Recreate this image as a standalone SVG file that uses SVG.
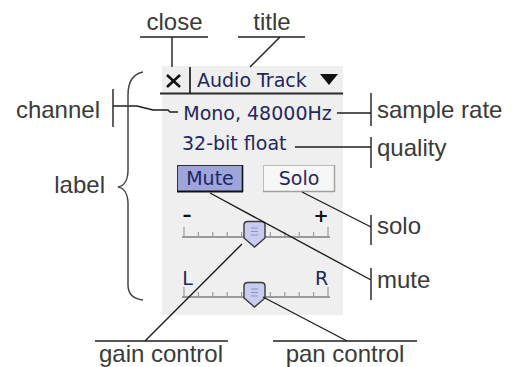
<svg xmlns="http://www.w3.org/2000/svg" width="513" height="367" viewBox="0 0 513 367">
<style>
.lbl{font-family:"Liberation Sans",Arial,sans-serif;font-size:24px;fill:#3a3a3a}
.ui{font-family:"DejaVu Sans",Tahoma,sans-serif;font-size:19px;fill:#1f2760}
.ln{stroke:#1e1e1e;stroke-width:1.4;fill:none}
.tick{stroke:#9a9a9a;stroke-width:1.2}
.thumb{fill:#c9cbef;stroke:#3a3a3a;stroke-width:1.4}
.grip{stroke:#8e91c8;stroke-width:1}
</style>
<rect width="513" height="367" fill="#ffffff"/>
<g id="panel">
  <rect x="162" y="66" width="181" height="249" fill="#efefef"/>
  <line x1="160" y1="93.5" x2="343" y2="93.5" stroke="#2a2a2a" stroke-width="2"/>
  <line x1="190" y1="67" x2="190" y2="94" stroke="#2a2a2a" stroke-width="1.8"/>
</g>
<g id="close-button">
  <line x1="167" y1="75" x2="180" y2="87" stroke="#111" stroke-width="2.6"/>
  <line x1="180" y1="75" x2="167" y2="87" stroke="#111" stroke-width="2.6"/>
</g>
<g id="title-text">
  <text class="ui" x="197" y="87">Audio Track</text>
  <polygon points="320,74 338,74 329,85" fill="#111"/>
</g>
<g id="sample-rate-text"><text class="ui" x="257.5" y="120" text-anchor="middle">Mono, 48000Hz</text></g>
<g id="quality-text"><text class="ui" x="182" y="150">32-bit float</text></g>
<g id="mute-button">
  <rect x="177.5" y="165.5" width="65" height="26" fill="#9ea5da" stroke="#333" stroke-width="1"/>
  <line x1="177" y1="191.5" x2="243" y2="191.5" stroke="#111" stroke-width="2"/>
  <line x1="242.5" y1="165" x2="242.5" y2="192" stroke="#111" stroke-width="1.6"/>
  <text class="ui" x="210" y="185" text-anchor="middle">Mute</text>
</g>
<g id="solo-button">
  <rect x="263.5" y="165.5" width="71" height="26" fill="#f7f7f7" stroke="#bdbdbd" stroke-width="1"/>
  <line x1="263" y1="191.5" x2="335" y2="191.5" stroke="#a0a0a0" stroke-width="1.4"/>
  <line x1="334.5" y1="165" x2="334.5" y2="192" stroke="#a0a0a0" stroke-width="1.4"/>
  <text class="ui" x="299" y="185" text-anchor="middle">Solo</text>
</g>
<g id="gain-slider">
  <text class="ui" x="187" y="221" text-anchor="middle" style="font-size:18px;font-weight:bold;fill:#111">–</text>
  <text class="ui" x="321" y="222" text-anchor="middle" style="font-size:18px;font-weight:bold;fill:#111">+</text>
  <line x1="182" y1="237" x2="330" y2="237" stroke="#9a9a9a" stroke-width="1.8"/>
  <g class="tick">
    <line x1="184" y1="227" x2="184" y2="236"/><line x1="198.4" y1="232" x2="198.4" y2="236"/><line x1="212.8" y1="232" x2="212.8" y2="236"/><line x1="227.2" y1="232" x2="227.2" y2="236"/><line x1="241.6" y1="232" x2="241.6" y2="236"/><line x1="270.4" y1="232" x2="270.4" y2="236"/><line x1="284.8" y1="232" x2="284.8" y2="236"/><line x1="299.2" y1="232" x2="299.2" y2="236"/><line x1="313.6" y1="232" x2="313.6" y2="236"/><line x1="328" y1="227" x2="328" y2="236"/>
  </g>
  <path class="thumb" d="M244,225 Q244,221.5 248,221.5 L261,221.5 Q265,221.5 265,225 L265,238 L254.5,247 L244,238 Z"/>
  <g class="grip"><line x1="251" y1="228" x2="258" y2="228"/><line x1="251" y1="231.5" x2="258" y2="231.5"/><line x1="251" y1="235" x2="258" y2="235"/></g>
</g>
<g id="pan-slider">
  <text class="ui" x="187.5" y="284.5" text-anchor="middle" style="font-size:19px">L</text>
  <text class="ui" x="321.5" y="284.5" text-anchor="middle" style="font-size:19px">R</text>
  <line x1="182" y1="297" x2="330" y2="297" stroke="#9a9a9a" stroke-width="1.8"/>
  <g class="tick">
    <line x1="184" y1="287" x2="184" y2="296"/><line x1="198.4" y1="292" x2="198.4" y2="296"/><line x1="212.8" y1="292" x2="212.8" y2="296"/><line x1="227.2" y1="292" x2="227.2" y2="296"/><line x1="241.6" y1="292" x2="241.6" y2="296"/><line x1="270.4" y1="292" x2="270.4" y2="296"/><line x1="284.8" y1="292" x2="284.8" y2="296"/><line x1="299.2" y1="292" x2="299.2" y2="296"/><line x1="313.6" y1="292" x2="313.6" y2="296"/><line x1="328" y1="287" x2="328" y2="296"/>
  </g>
  <path class="thumb" d="M244,286 Q244,282.5 248,282.5 L261,282.5 Q265,282.5 265,286 L265,298 L254.5,307 L244,298 Z"/>
  <g class="grip"><line x1="251" y1="289" x2="258" y2="289"/><line x1="251" y1="292.5" x2="258" y2="292.5"/><line x1="251" y1="296" x2="258" y2="296"/></g>
</g>
<g id="label-close"><text class="lbl" x="174.5" y="30" text-anchor="middle">close</text></g>
<g id="label-title"><text class="lbl" x="272" y="30" text-anchor="middle">title</text></g>
<g id="label-channel"><text class="lbl" x="100" y="118" text-anchor="end">channel</text></g>
<g id="label-label"><text class="lbl" x="105" y="193" text-anchor="end">label</text></g>
<g id="label-sample-rate"><text class="lbl" x="377" y="118">sample rate</text></g>
<g id="label-quality"><text class="lbl" x="377" y="156">quality</text></g>
<g id="label-solo"><text class="lbl" x="377" y="234">solo</text></g>
<g id="label-mute"><text class="lbl" x="377" y="288">mute</text></g>
<g id="label-gain-control"><text class="lbl" x="161" y="362" text-anchor="middle">gain control</text></g>
<g id="label-pan-control"><text class="lbl" x="345" y="362" text-anchor="middle">pan control</text></g>
<g id="connectors" class="ln">
  <line x1="140" y1="37" x2="208" y2="37"/>
  <line x1="172" y1="37" x2="172" y2="67"/>
  <line x1="238" y1="37" x2="305" y2="37"/>
  <line x1="280" y1="37" x2="250" y2="67"/>
  <line x1="113" y1="89" x2="113" y2="127"/>
  <polyline points="113,106 137,106 153,110 168,110 170,112 178,112"/>
  <path d="M143,72 C133,74 128,82 128,95 L128,170 C128,180 124,186 118,187 C124,188 128,194 128,204 L128,285 C128,295 134,299 143,300" stroke="#444" stroke-width="1.5"/>
  <line x1="371" y1="93" x2="371" y2="126"/>
  <line x1="337" y1="113" x2="371" y2="113"/>
  <line x1="371" y1="137" x2="371" y2="168"/>
  <line x1="295" y1="147" x2="371" y2="147"/>
  <line x1="371" y1="215" x2="371" y2="245"/>
  <line x1="302" y1="192" x2="371" y2="227"/>
  <line x1="371" y1="268" x2="371" y2="300"/>
  <line x1="210" y1="193" x2="371" y2="280"/>
  <line x1="95" y1="341" x2="228" y2="341"/>
  <line x1="145" y1="341" x2="242" y2="244"/>
  <line x1="273" y1="341" x2="417" y2="341"/>
  <line x1="347" y1="341" x2="263" y2="297"/>
</g>
</svg>
